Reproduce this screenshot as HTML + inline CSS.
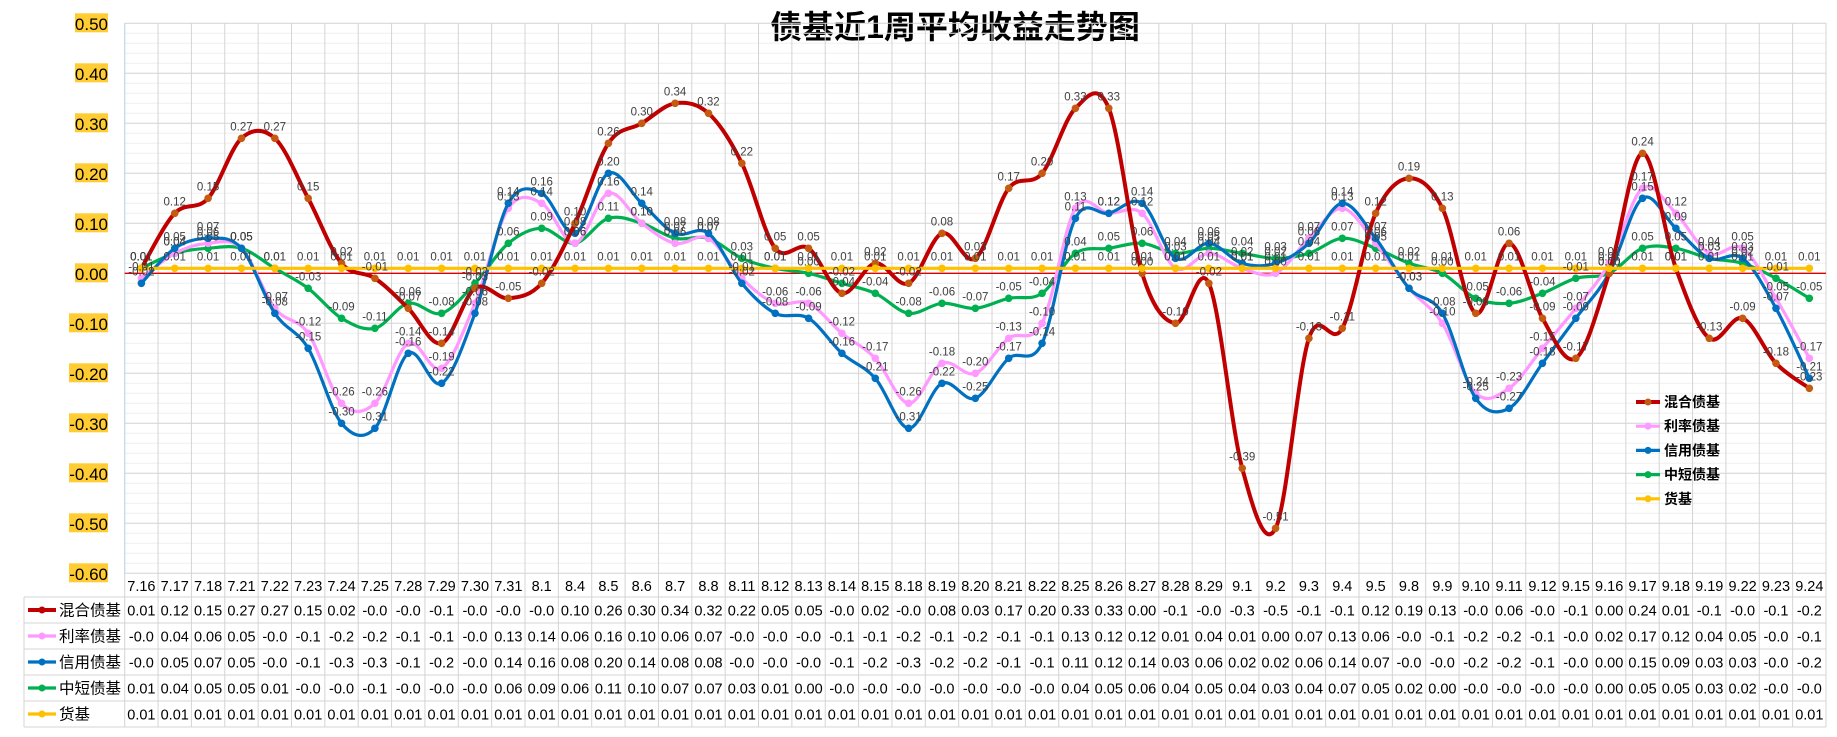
<!DOCTYPE html>
<html><head><meta charset="utf-8">
<style>
html,body{margin:0;padding:0;background:#fff;}
svg{display:block;font-family:"Liberation Sans","Noto Sans CJK SC",sans-serif;}
</style></head>
<body>
<svg id="chart" width="1837" height="737" viewBox="0 0 1837 737" xmlns="http://www.w3.org/2000/svg">
<text x="955" y="38" text-anchor="middle" font-size="32" font-weight="bold" fill="#000" font-family="'Liberation Sans','Noto Sans CJK SC',sans-serif">债基近1周平均收益走势图</text>
<g id="grid"></g><g id="yaxis"></g><g id="table"></g><g id="series"></g><g id="labels"></g><g id="legend"></g>
</svg>
<script>
const categories=["7.16","7.17","7.18","7.21","7.22","7.23","7.24","7.25","7.28","7.29","7.30","7.31","8.1","8.4","8.5","8.6","8.7","8.8","8.11","8.12","8.13","8.14","8.15","8.18","8.19","8.20","8.21","8.22","8.25","8.26","8.27","8.28","8.29","9.1","9.2","9.3","9.4","9.5","9.8","9.9","9.10","9.11","9.12","9.15","9.16","9.17","9.18","9.19","9.22","9.23","9.24"];
const mixedValues=[0.01,0.12,0.15,0.27,0.27,0.15,0.02,-0.01,-0.07,-0.14,-0.03,-0.05,-0.02,0.10,0.26,0.30,0.34,0.32,0.22,0.05,0.05,-0.04,0.02,-0.02,0.08,0.03,0.17,0.20,0.33,0.33,0.00,-0.10,-0.02,-0.39,-0.51,-0.13,-0.11,0.12,0.19,0.13,-0.08,0.06,-0.09,-0.17,0.00,0.24,0.01,-0.13,-0.09,-0.18,-0.23];
const rateValues=[-0.01,0.04,0.06,0.05,-0.07,-0.12,-0.26,-0.26,-0.14,-0.19,-0.06,0.13,0.14,0.06,0.16,0.10,0.06,0.07,-0.01,-0.06,-0.06,-0.12,-0.17,-0.26,-0.18,-0.20,-0.13,-0.10,0.13,0.12,0.12,0.01,0.04,0.01,0.00,0.07,0.13,0.06,-0.03,-0.10,-0.24,-0.23,-0.15,-0.07,0.02,0.17,0.12,0.04,0.05,-0.05,-0.17];
const creditValues=[-0.02,0.05,0.07,0.05,-0.08,-0.15,-0.30,-0.31,-0.16,-0.22,-0.08,0.14,0.16,0.08,0.20,0.14,0.08,0.08,-0.02,-0.08,-0.09,-0.16,-0.21,-0.31,-0.22,-0.25,-0.17,-0.14,0.11,0.12,0.14,0.03,0.06,0.02,0.02,0.06,0.14,0.07,-0.03,-0.08,-0.25,-0.27,-0.18,-0.09,0.00,0.15,0.09,0.03,0.03,-0.07,-0.21];
const shortValues=[0.01,0.04,0.05,0.05,0.01,-0.03,-0.09,-0.11,-0.06,-0.08,-0.02,0.06,0.09,0.06,0.11,0.10,0.07,0.07,0.03,0.01,0.00,-0.02,-0.04,-0.08,-0.06,-0.07,-0.05,-0.04,0.04,0.05,0.06,0.04,0.05,0.04,0.03,0.04,0.07,0.05,0.02,0.00,-0.05,-0.06,-0.04,-0.01,0.00,0.05,0.05,0.03,0.02,-0.01,-0.05];
const moneyValues=[0.01,0.01,0.01,0.01,0.01,0.01,0.01,0.01,0.01,0.01,0.01,0.01,0.01,0.01,0.01,0.01,0.01,0.01,0.01,0.01,0.01,0.01,0.01,0.01,0.01,0.01,0.01,0.01,0.01,0.01,0.01,0.01,0.01,0.01,0.01,0.01,0.01,0.01,0.01,0.01,0.01,0.01,0.01,0.01,0.01,0.01,0.01,0.01,0.01,0.01,0.01];
const seriesNames=["混合债基","利率债基","信用债基","中短债基","货基"];
const yTicks=[0.5,0.4,0.3,0.2,0.1,0,-0.1,-0.2,-0.3,-0.4,-0.5,-0.6];

const NS="http://www.w3.org/2000/svg";
const L=124.7,R=1826,T=23.3,B=573.3,yMax=0.5,yMin=-0.6;
const n=categories.length, step=(R-L)/n;
const xPos=i=>L+step*(i+0.5);
const yPos=v=>T+(yMax-v)/(yMax-yMin)*(B-T);
function mk(tag,attrs,parent){const e=document.createElementNS(NS,tag);for(const k in attrs)e.setAttribute(k,attrs[k]);parent.appendChild(e);return e;}
const grid=document.getElementById('grid');
for(let k=0;k<=55;k++){const v=yMax-k*0.02;const y=yPos(v);
 const ln=mk('line',{x1:L,x2:R,y1:y,y2:y,stroke:(k%5===0)?'#d4d4d4':'#efefef','stroke-width':1},grid);
 
 }
for(let i=0;i<=n;i++){const x=L+step*i;
 const ln=mk('line',{x1:x,x2:x,y1:T,y2:727,stroke:'#d4d4d4','stroke-width':1},grid);
 
 }
const ax=mk('line',{x1:L,x2:L,y1:T,y2:B,stroke:'#bdd7ee','stroke-width':1},grid);


const zl=mk('line',{x1:L,x2:R,y1:yPos(0),y2:yPos(0),stroke:'#e00000','stroke-width':1.3},grid);


const ya=document.getElementById('yaxis');
yTicks.forEach(v=>{const y=yPos(v);
 const r=mk('rect',{x:v<0?69:75,y:y-10,width:v<0?39:33,height:19,fill:'#ffcc33'},ya);
 
 
 const t=mk('text',{x:108,y:y+6.5,'text-anchor':'end','font-size':17,fill:'#000'},ya);
 t.textContent=v.toFixed(2);
 
 });
const colors=['#c00000','#ff99ff','#0070c0','#00b050','#ffc000'];
const widths=[4,3.2,3.2,3.2,3.2];
const data=[mixedValues,rateValues,creditValues,shortValues,moneyValues];
const sKeys=['mixed','rate','credit','short','money'];
const tb=document.getElementById('table');
const rowTops=[597,623,649,675,701,727];
rowTops.forEach((y,k)=>{const ln=mk('line',{x1:24,x2:R,y1:y,y2:y,stroke:'#d4d4d4'},tb);
 
 });
const lb=mk('line',{x1:24,x2:24,y1:597,y2:727,stroke:'#d4d4d4'},tb);


categories.forEach((c,i)=>{const t=mk('text',{x:xPos(i),y:591,'text-anchor':'middle','font-size':14.5,fill:'#000'},tb);
 t.textContent=c;
 
 });
function fmt(v){if(v<0){const r=Math.trunc(Math.round(v*100)/10)/10;return '-'+Math.abs(r).toFixed(1);}return v.toFixed(2);}
data.forEach((arr,k)=>{const yc=(rowTops[k]+rowTops[k+1])/2;
 const ml=mk('line',{x1:28,x2:56,y1:yc,y2:yc,stroke:colors[k],'stroke-width':widths[k]},tb);
 
 
 const mc=mk('circle',{cx:42,cy:yc,r:3.5,fill:colors[k]},tb);
 
 
 const nt=mk('text',{x:59,y:yc+5.5,'font-size':15.5,fill:'#000'},tb);
 nt.textContent=seriesNames[k];
 
 
 arr.forEach((v,i)=>{const t=mk('text',{x:xPos(i),y:yc+5.5,'text-anchor':'middle','font-size':14.5,fill:'#000'},tb);
  t.textContent=fmt(v);
  
  });});
const sg=document.getElementById('series'), lg=document.getElementById('labels');
function smoothPath(pts){let d=`M${pts[0][0]},${pts[0][1]}`;
 for(let i=0;i<pts.length-1;i++){const p0=pts[Math.max(i-1,0)],p1=pts[i],p2=pts[i+1],p3=pts[Math.min(i+2,pts.length-1)];
  const c1=[p1[0]+(p2[0]-p0[0])/6,p1[1]+(p2[1]-p0[1])/6],c2=[p2[0]-(p3[0]-p1[0])/6,p2[1]-(p3[1]-p1[1])/6];
  d+=` C${c1[0]},${c1[1]} ${c2[0]},${c2[1]} ${p2[0]},${p2[1]}`;}return d;}
[3,1,2,0,4].forEach(k=>{const arr=data[k];const pts=arr.map((v,i)=>[xPos(i),yPos(v)]);
 const p=mk('path',{d:smoothPath(pts),fill:'none',stroke:colors[k],'stroke-width':widths[k],'stroke-linejoin':'round'},sg);
 
 
 pts.forEach((pt,i)=>{const c=mk('circle',{cx:pt[0],cy:pt[1],r:3.8,fill:k===0?'#c55a11':colors[k]},sg);
  
  
  const t=mk('text',{x:pt[0],y:pt[1]-8,'text-anchor':'middle','font-size':11.5,fill:'#404040'},lg);
  t.textContent=arr[i].toFixed(2);
  
  });});
const lgd=document.getElementById('legend');
seriesNames.forEach((s,k)=>{const y=402+k*24.2;
 const ln=mk('line',{x1:1636,x2:1660,y1:y,y2:y,stroke:colors[k],'stroke-width':widths[k]},lgd);
 
 
 const c=mk('circle',{cx:1648,cy:y,r:3.5,fill:k===0?'#c55a11':colors[k]},lgd);
 
 
 const t=mk('text',{x:1664,y:y+5,'font-size':14,'font-weight':'bold',fill:'#000'},lgd);
 t.textContent=s;
 
 });
</script>
</body></html>
